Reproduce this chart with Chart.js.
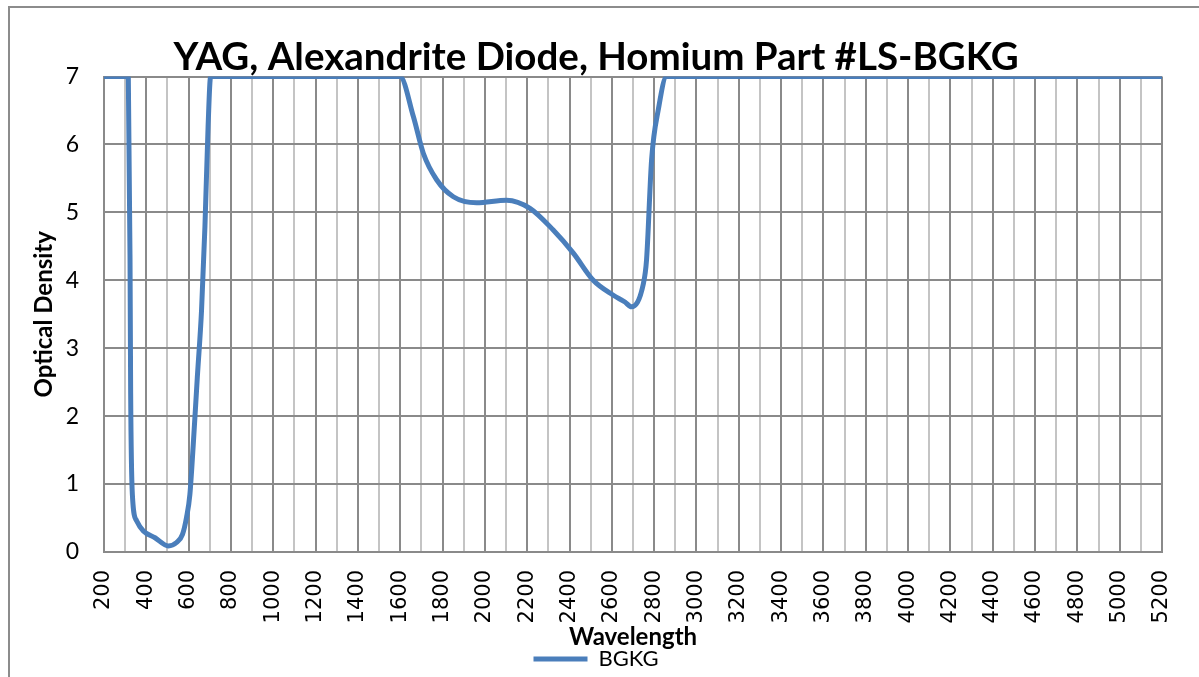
<!DOCTYPE html>
<html>
<head>
<meta charset="utf-8">
<script src="https://cdn.jsdelivr.net/npm/chart.js@4.4.1/dist/chart.umd.min.js"></script>
<style>
  html, body { margin: 0; padding: 0; background: #fff; }
  #wrap { position: relative; width: 1199px; height: 677px; overflow: hidden; }
  #frame { position: absolute; left: 8px; top: 6px; width: 1300px; height: 800px; border-left: 2px solid #8c8c8c; border-top: 2px solid #8c8c8c; box-sizing: border-box; pointer-events: none; }
  canvas { position: absolute; left: 0; top: 0; }
</style>
</head>
<body>
<div id="wrap">
  <canvas id="c" width="1199" height="677"></canvas>
  <div id="frame"></div>
</div>
<script>
const chartTitle = "YAG, Alexandrite Diode, Homium Part #LS-BGKG";
const seriesName = "BGKG";
const xTitle = "Wavelength";
const yTitle = "Optical Density";

const wavelength = [200, 300, 315, 323, 326, 334, 354, 386, 441, 504, 543, 571, 590, 606, 622, 641, 661, 677, 692, 704,
  1000, 1400, 1599, 1662, 1709, 1772, 1851, 1961, 2103, 2213, 2323, 2418, 2512, 2607, 2662, 2693, 2749, 2764, 2788, 2820, 2859,
  3500, 4500, 5200];
const opticalDensity = [7, 7, 6.98, 4.30, 2.33, 0.85, 0.46, 0.31, 0.21, 0.09, 0.14, 0.26, 0.51, 0.85, 1.59, 2.57, 3.56, 4.79, 6.27, 7,
  7, 7, 7, 6.41, 5.87, 5.48, 5.23, 5.14, 5.18, 5.06, 4.74, 4.40, 4.00, 3.78, 3.68, 3.61, 3.95, 4.30, 5.78, 6.52, 7,
  7, 7, 7];

const xMin = 200, xMax = 5200, xStep = 100, xLabelStep = 200;
const yMin = 0, yMax = 7, yStep = 1;

const points = wavelength.map((w, i) => ({ x: w, y: opticalDensity[i] }));

new Chart(document.getElementById('c'), {
  type: 'line',
  data: {
    datasets: [{
      label: seriesName,
      data: points,
      borderColor: '#4a7ebb',
      backgroundColor: '#4a7ebb',
      borderWidth: 5,
      pointRadius: 0,
      cubicInterpolationMode: 'monotone',
      fill: false
    }]
  },
  options: {
    responsive: false,
    animation: false,
    events: [],
    layout: { padding: { top: 38, left: 30, right: 37, bottom: -3 } },
    plugins: {
      title: {
        display: true,
        text: chartTitle,
        color: '#000',
        font: { family: 'Lato', size: 38.5, weight: 'bold', lineHeight: 1.0 },
        padding: { top: 0, bottom: 0 }
      },
      legend: {
        position: 'bottom',
        labels: {
          color: '#000',
          font: { family: 'Lato', size: 22, lineHeight: 1.0 },
          boxWidth: 54,
          boxHeight: 5,
          padding: 0,
          generateLabels: (chart) => [{
            text: seriesName, fillStyle: '#4a7ebb', strokeStyle: '#4a7ebb', lineWidth: 0,
            datasetIndex: 0, hidden: false, fontColor: '#000'
          }]
        }
      },
      tooltip: { enabled: false }
    },
    scales: {
      x: {
        type: 'linear',
        min: xMin, max: xMax,
        afterFit: (s) => { s.height = 96; s.paddingLeft = 0; s.paddingRight = 0; },
        ticks: {
          stepSize: xStep,
          autoSkip: false,
          minRotation: 90, maxRotation: 90,
          padding: 18,
          color: '#000',
          font: { family: 'DejaVu Sans', size: 21 },
          callback: (v) => (v % xLabelStep === 0 ? String(v) : '')
        },
        grid: {
          drawTicks: false,
          lineWidth: 2,
          color: (ctx) => (ctx.tick && ctx.tick.value % xLabelStep === 0 ? '#8a8a8a' : '#c4c4c4')
        },
        border: { color: '#8a8a8a', width: 2 },
        title: {
          display: true, text: xTitle, color: '#000',
          font: { family: 'Lato', size: 24, weight: 'bold', lineHeight: 1.15 },
          padding: { top: 0, bottom: -3 }
        }
      },
      y: {
        min: yMin, max: yMax,
        afterFit: (s) => { s.width = 74; s.paddingTop = 0; s.paddingBottom = 0; },
        ticks: {
          stepSize: yStep,
          padding: 25,
          color: '#000',
          font: { family: 'Lato', size: 23 }
        },
        grid: { drawTicks: false, lineWidth: 2, color: '#8a8a8a' },
        border: { color: '#8a8a8a', width: 2 },
        title: {
          display: true, text: yTitle, color: '#000',
          font: { family: 'Lato', size: 24, weight: 'bold', lineHeight: 1.15 },
          padding: 0
        }
      }
    }
  }
});
</script>
</body>
</html>
